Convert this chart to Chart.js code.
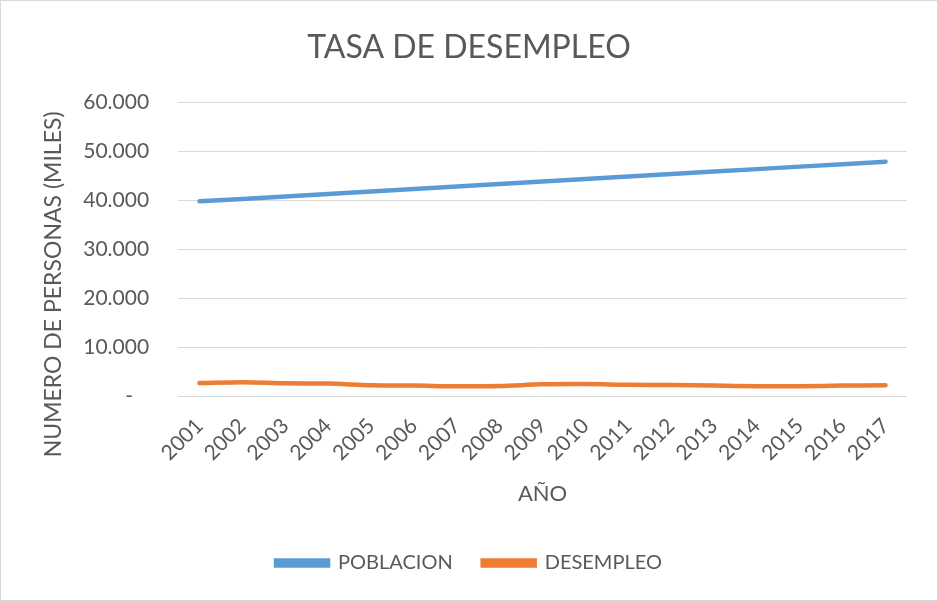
<!DOCTYPE html>
<html>
<head>
<meta charset="utf-8">
<script src="https://cdn.jsdelivr.net/npm/chart.js@4"></script>
<style>
    html, body { margin: 0; padding: 0; background: #fff; }
    #wrap { width: 936px; height: 599px; border: 1px solid #d9d9d9; position: relative; }
</style>
</head>
<body>
<div id="wrap"><canvas id="tasaChart"></canvas></div>
<script>
// Data
const years = ["2001", "2002", "2003", "2004", "2005", "2006", "2007", "2008", "2009",
    "2010", "2011", "2012", "2013", "2014", "2015", "2016", "2017"];
const poblacion = [39800, 40300, 40810, 41320, 41820, 42330, 42840, 43340, 43850,
    44350, 44860, 45370, 45870, 46380, 46890, 47390, 47900];
const desempleo = [2700, 2870, 2650, 2600, 2250, 2200, 2050, 2100, 2450,
    2500, 2350, 2300, 2200, 2050, 2050, 2200, 2250];
const yTicks = [0, 10000, 20000, 30000, 40000, 50000, 60000];
const yTitle = "NUMERO DE PERSONAS (MILES)";

const textColor = "#595959";
const fontName = "Lato, 'Open Sans', sans-serif";

function fmt(v) {
    if (v == 0) return "-   ";
    return v.toLocaleString("de-DE");
}

// y title is drawn by hand so it can sit a bit lower, like in Excel
const yTitlePlugin = {
    id: "yTitlePlugin",
    afterDraw(chart) {
        let c = chart.ctx;
        let area = chart.chartArea;
        c.save();
        c.translate(chart.scales.y.left + 23, (area.top + area.bottom) / 2 + 35);
        c.rotate(-Math.PI / 2);
        c.fillStyle = textColor;
        c.font = "23px " + fontName;
        c.textAlign = "center";
        c.textBaseline = "middle";
        c.fillText(yTitle, 0, 0);
        c.restore();
    }
};

const ctx = document.getElementById("tasaChart").getContext("2d");
const tasaChart = new Chart(ctx, {
    type: "line",
    data: {
        labels: years,
        datasets: [{
            label: "POBLACION",
            data: poblacion,
            borderColor: "#5B9BD5",
            backgroundColor: "#5B9BD5",
            borderWidth: 4.5,
            borderCapStyle: "round",
            pointRadius: 0,
            tension: 0,
        }, {
            label: "DESEMPLEO",
            data: desempleo,
            borderColor: "#ED7D31",
            backgroundColor: "#ED7D31",
            borderWidth: 4.5,
            borderCapStyle: "round",
            pointRadius: 0,
            tension: 0.3,
        }]
    },
    options: {
        responsive: true,
        maintainAspectRatio: false,
        animation: false,
        layout: {
            padding: { left: 30, right: 30, top: 0, bottom: 17 }
        },
        scales: {
            x: {
                offset: true,
                grid: { display: false },
                border: { display: false },
                ticks: {
                    color: textColor,
                    font: { family: fontName, size: 21 },
                    minRotation: 45,
                    maxRotation: 45,
                    padding: 9,
                },
                title: {
                    display: true,
                    text: "AÑO",
                    color: textColor,
                    font: { family: fontName, size: 22 },
                    padding: { top: 6, bottom: 16 },
                }
            },
            y: {
                min: 0,
                max: 60000,
                afterBuildTicks: (axis) => { axis.ticks = yTicks.map(v => ({ value: v })); },
                grid: { color: "#d9d9d9", lineWidth: 1, drawTicks: false },
                border: { display: false },
                ticks: {
                    color: textColor,
                    font: { family: fontName, size: 21 },
                    padding: 29,
                    callback: (v) => fmt(v),
                },
                title: {
                    // only keeps room, the visible title comes from yTitlePlugin
                    display: true,
                    text: "M",
                    color: "rgba(0,0,0,0)",
                    font: { family: fontName, size: 16 },
                    padding: { top: 0, bottom: 4 },
                }
            }
        },
        plugins: {
            title: {
                display: true,
                text: "TASA DE DESEMPLEO",
                color: textColor,
                font: { family: fontName, size: 32, weight: "normal" },
                padding: { top: 27, bottom: 36 },
            },
            legend: {
                position: "bottom",
                labels: {
                    color: textColor,
                    font: { family: fontName, size: 20 },
                    boxWidth: 52,
                    boxHeight: 5,
                    padding: 30,
                }
            },
            tooltip: { enabled: false }
        }
    },
    plugins: [yTitlePlugin]
});
</script>
</body>
</html>
